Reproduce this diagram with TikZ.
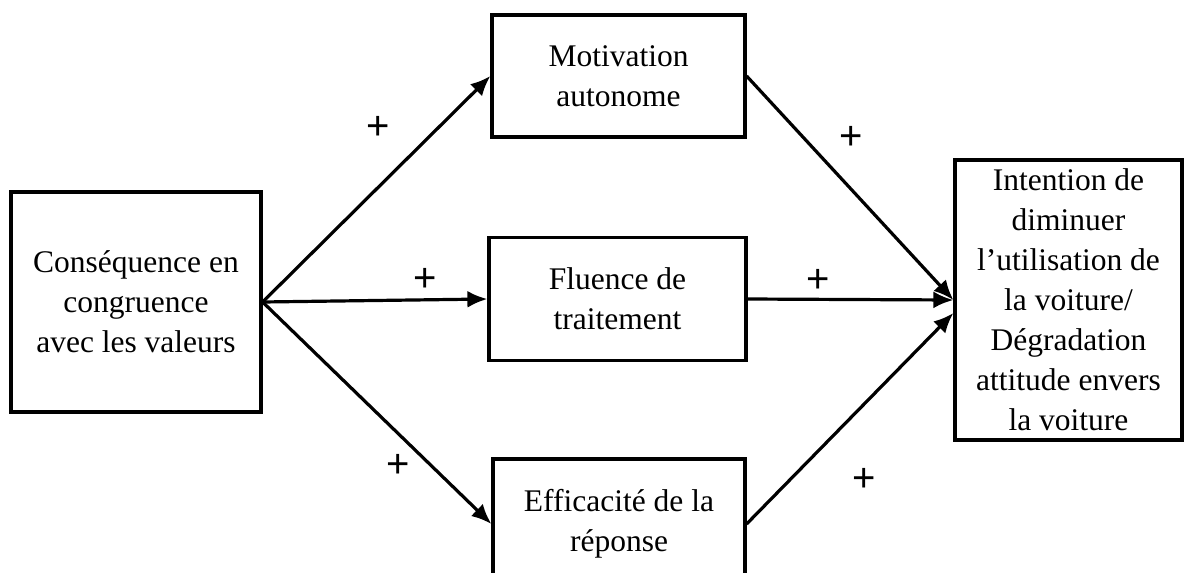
\documentclass[tikz,border=0pt]{standalone}
\usepackage{fontspec}
\setmainfont{Liberation Serif}
\newfontfamily\plusfont{Liberation Sans}
\usetikzlibrary{arrows.meta,calc}
\begin{document}
\begin{tikzpicture}[x=1pt,y=-1pt,
  box/.style={draw, line width=3.2pt, align=center, font=\fontsize{31.5}{40}\selectfont, inner sep=0pt},
  arr/.style={line width=3.2pt, -{Latex[length=20pt,width=17pt]}},
  plus/.style={font=\plusfont\fontsize{40}{44}\selectfont, inner sep=0pt}]
\useasboundingbox (0,0) rectangle (1192,573);
\clip (0,0) rectangle (1192,573);
\node[box, minimum width=250pt, minimum height=220pt] (src) at (136,302) {Conséquence en\\congruence\\avec les valeurs};
\node[box, minimum width=253pt, minimum height=122pt] (top) at (618.5,76) {Motivation\\autonome};
\node[box, minimum width=257pt, minimum height=123pt] (mid) at (617.5,299) {Fluence de\\traitement};
\node[box, minimum width=252pt, minimum height=130pt] (bot) at (619,524) {Efficacité de la\\réponse};
\node[box, minimum width=227pt, minimum height=280pt] (tgt) at (1068.5,300) {Intention de\\diminuer\\l’utilisation de\\la voiture/\\Dégradation\\attitude envers\\la voiture};
\coordinate (t1) at (tgt.west);
\coordinate (t2) at ($(tgt.west)+(0,13)$);
\draw[arr] (src.east) -- (top.west);
\draw[arr] (src.east) -- (mid.west);
\draw[arr] (src.east) -- (bot.west);
\draw[arr] (top.east) -- (t1);
\draw[arr] (mid.east) -- (t1);
\draw[arr] (bot.east) -- (t2);
\node[plus] (p1) at (378,128) {+};
\node[plus] (p2) at (425,280) {+};
\node[plus] (p3) at (398,466) {+};
\node[plus] (p4) at (851,138) {+};
\node[plus] (p5) at (818,281) {+};
\node[plus] (p6) at (864,480) {+};
\end{tikzpicture}
\end{document}
